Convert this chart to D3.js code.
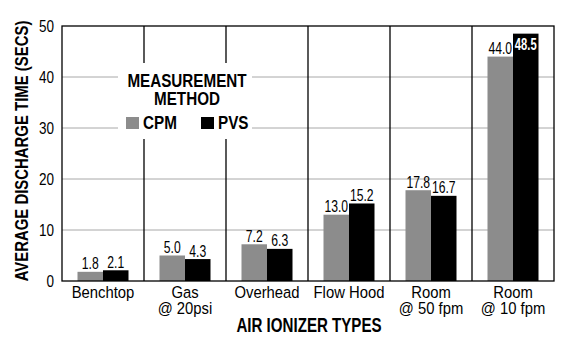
<!DOCTYPE html>
<html><head><meta charset="utf-8">
<script src="https://cdn.jsdelivr.net/npm/d3@7"></script>
<style>
body{margin:0;background:#fff;}
text{font-family:"Liberation Sans",Arial,sans-serif;}
</style></head><body>
<svg id="c" width="572" height="342"></svg>
<script>
const categories = [["Benchtop"],["Gas","@ 20psi"],["Overhead"],["Flow Hood"],["Room","@ 50 fpm"],["Room","@ 10 fpm"]];
const seriesNames = ["CPM","PVS"];
const cpm = [1.8, 5.0, 7.2, 13.0, 17.8, 44.0];
const pvs = [2.1, 4.3, 6.3, 15.2, 16.7, 48.5];
const yTicks = [0,10,20,30,40,50];
const colors = ["#8c8c8c","#000000"];

const svg = d3.select("#c");
const m = {l:62, r:554, t:26, b:281};
const x = d3.scaleBand().domain(d3.range(categories.length)).range([m.l, m.r]).paddingInner(0).paddingOuter(0);
const y = d3.scaleLinear().domain([0,50]).range([m.b, m.t]);
const barW = 25.5;
const xs = d3.scaleBand().domain(seriesNames).range([0, barW*2]);

// condensed text helper
function ctext(parent, tx, ty, str, size, weight, sx, anchor, fill){
  const g = parent.append("g").attr("transform",`translate(${tx},${ty}) scale(${sx},1)`);
  return g.append("text").attr("x",0).attr("y",0).attr("font-size",size).attr("font-weight",weight||"normal")
    .attr("text-anchor",anchor||"middle").attr("fill",fill||"#000").text(str);
}

// gridlines
svg.append("g").selectAll("line").data(yTicks.filter(t=>t>0 && t<50)).join("line")
  .attr("x1", m.l).attr("x2", m.r).attr("y1", d=>y(d)).attr("y2", d=>y(d))
  .attr("stroke","#a8a8a8").attr("stroke-width",1);
// vertical separators
svg.append("g").selectAll("line").data(d3.range(1,categories.length)).join("line")
  .attr("x1", d=>x(d)).attr("x2", d=>x(d)).attr("y1", m.t).attr("y2", m.b)
  .attr("stroke","#000").attr("stroke-width",1.3);

// bars
const data = [cpm, pvs];
const gBars = svg.append("g");
data.forEach((vals, si)=>{
  gBars.selectAll(".b"+si).data(vals).join("rect")
    .attr("x",(d,i)=>x(i)+x.bandwidth()/2 - barW + xs(seriesNames[si]))
    .attr("width", barW)
    .attr("y", d=>y(d)).attr("height", d=>y(0)-y(d))
    .attr("fill", colors[si]);
});
// value labels
const gLab = svg.append("g");
data.forEach((vals, si)=>{
  vals.forEach((d,i)=>{
    const cx = x(i)+x.bandwidth()/2 - barW + xs(seriesNames[si]) + barW/2;
    const inside = y(d)-16 < m.t;
    ctext(gLab, cx, inside ? y(d)+16 : y(d)-2.5, d.toFixed(1), 16, inside?"bold":"normal", inside?0.7:0.76, "middle", inside?"#fff":"#000");
  });
});

// legend box
const lg = svg.append("g");
lg.append("rect").attr("x",118).attr("y",63).attr("width",134).attr("height",76).attr("fill","#fff");
ctext(lg, 187, 87, "MEASUREMENT", 17.5, "bold", 0.87);
ctext(lg, 187, 105, "METHOD", 17.5, "bold", 0.87);
const lx = [126, 201];
seriesNames.forEach((s,i)=>{
  lg.append("rect").attr("x",lx[i]).attr("y",117).attr("width",13).attr("height",12).attr("fill",colors[i]);
  ctext(lg, lx[i]+17, 129, s, 17.5, "bold", 0.87, "start");
});

// frame
svg.append("rect").attr("x",m.l).attr("y",m.t).attr("width",m.r-m.l).attr("height",m.b-m.t)
  .attr("fill","none").attr("stroke","#000").attr("stroke-width",1.3);

// y axis (ticks via d3 axis, text condensed)
const ya = svg.append("g").attr("transform",`translate(${m.l},0)`)
  .call(d3.axisLeft(y).tickValues(yTicks).tickSize(0).tickPadding(8).tickFormat(d3.format("d")));
ya.select(".domain").remove();
ya.selectAll(".tick text").attr("font-size",16.5).attr("fill","#000")
  .attr("x",0).attr("dy","0.36em")
  .attr("transform","translate(-8,0) scale(0.82,1)")
  .style("font-family",'"Liberation Sans",Arial,sans-serif');

// x axis labels
const xa = svg.append("g");
categories.forEach((c,i)=>{
  c.forEach((line,j)=> ctext(xa, x(i)+x.bandwidth()/2, 298 + j*16, line, 16.3, "normal", 0.91));
});

// axis titles
ctext(svg, 309, 332, "AIR IONIZER TYPES", 19.5, "bold", 0.775);
const yt = svg.append("g").attr("transform","translate(28,151) rotate(-90)");
ctext(yt, 0, 0, "AVERAGE DISCHARGE TIME (SECS)", 19, "bold", 0.785);
</script></body></html>
